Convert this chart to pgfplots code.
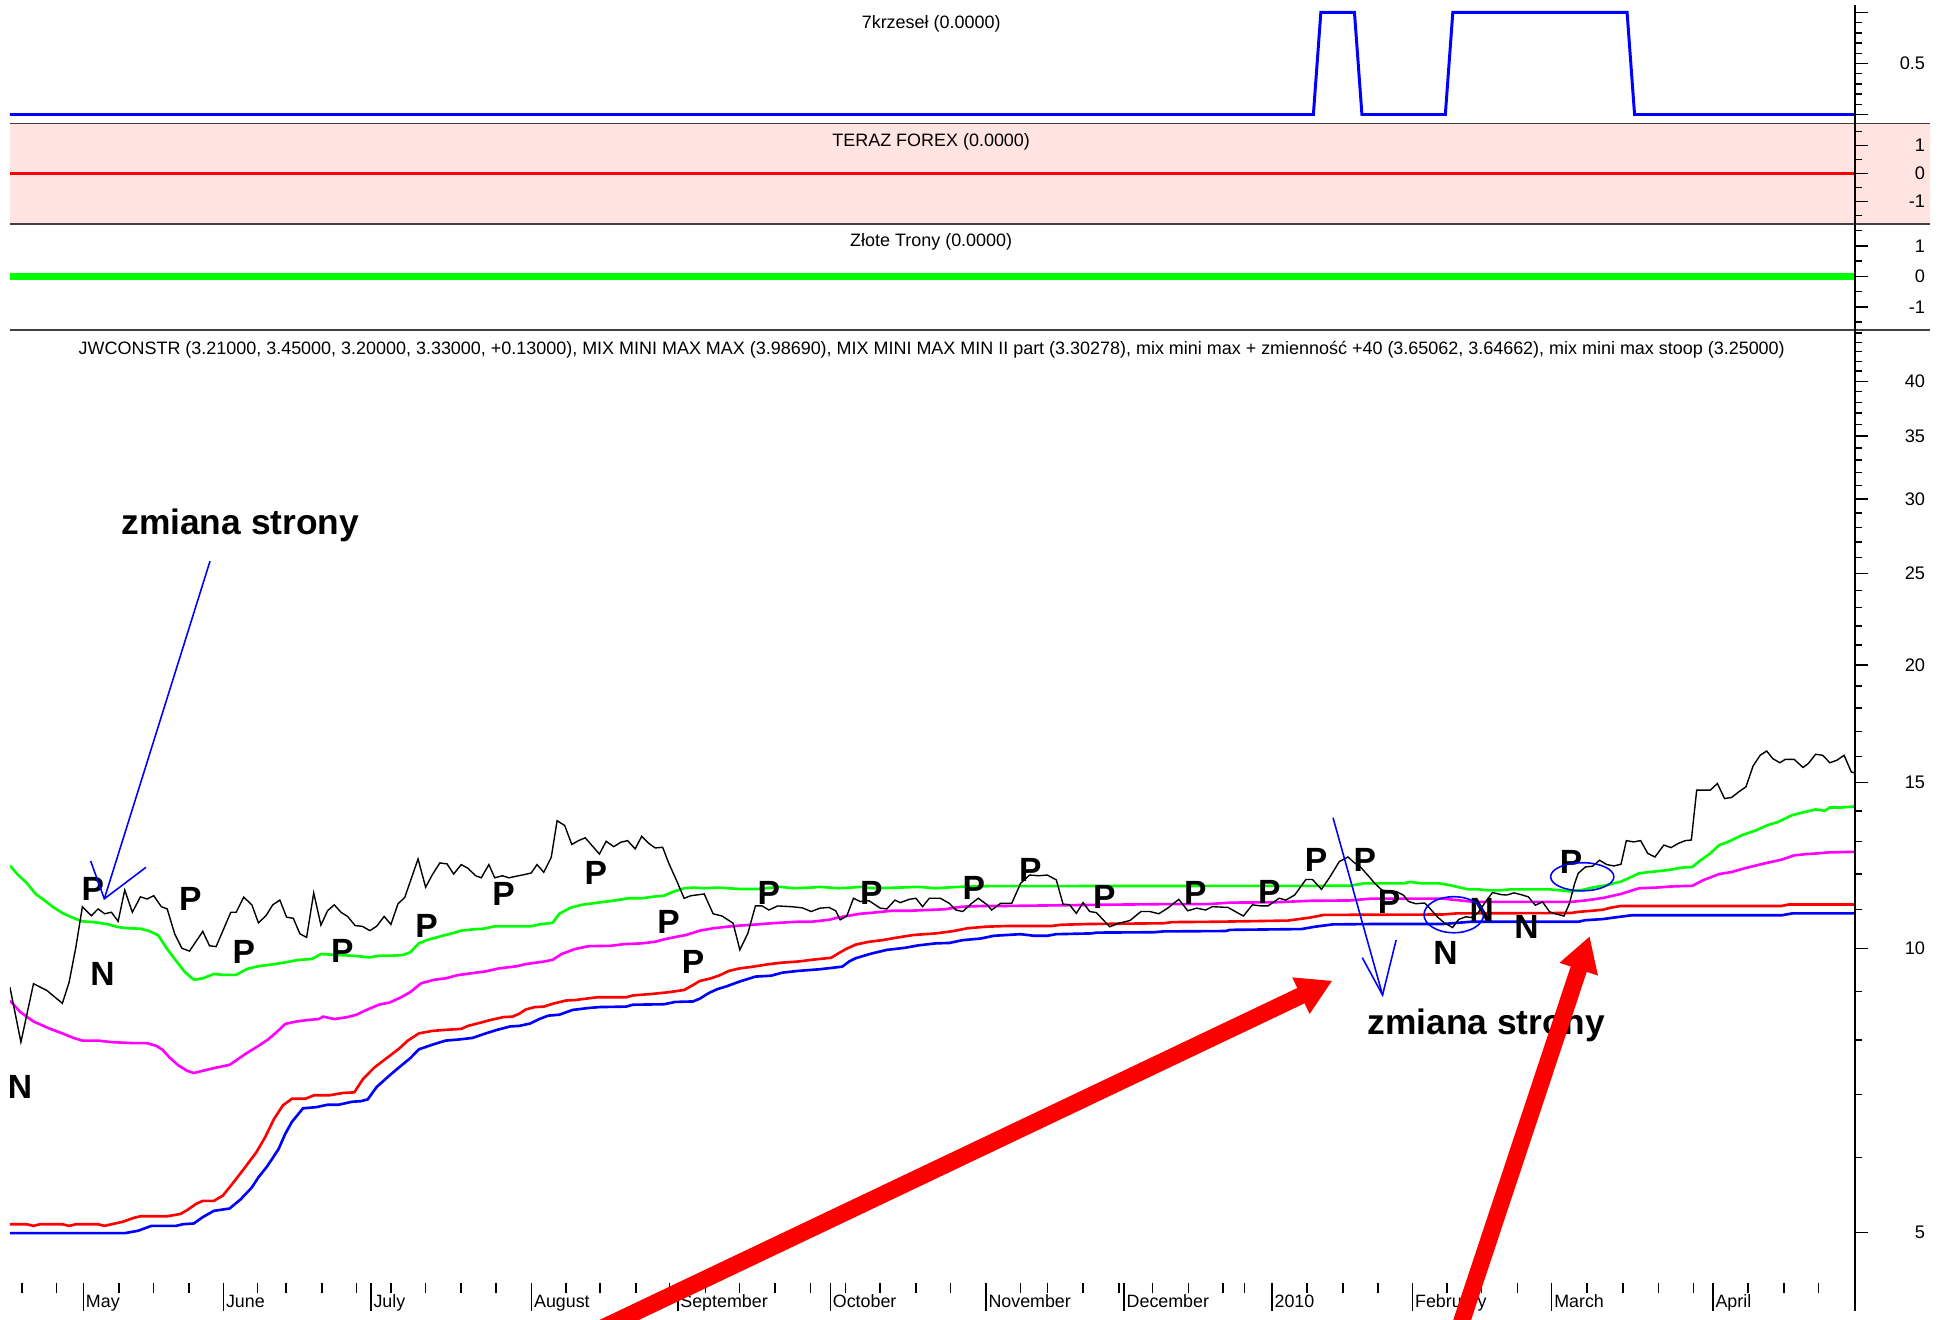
\documentclass[border=0pt]{standalone}
\usepackage{fontspec}
\setmainfont{Liberation Sans}
\usepackage{pgfplots}
\pgfplotsset{compat=1.18}
\usetikzlibrary{arrows.meta}
\definecolor{mygreen}{RGB}{0,255,0}
\definecolor{mymag}{RGB}{255,0,255}
\definecolor{myred}{RGB}{255,0,0}
\definecolor{myblue}{RGB}{0,0,255}
\definecolor{mypink}{RGB}{255,228,225}
\pgfplotsset{base/.style={scale only axis, width=185.25mm, xmin=8, xmax=1490,
  axis line style={draw=none}, xtick=\empty, ytick pos=right, yticklabel pos=right,
  tick align=outside, major tick length=1.3mm, minor tick length=0.7mm,
  tick style={black, line width=0.4pt},
  tick label style={font=\fontsize{5.2}{6}\selectfont},
  yticklabel style={text width=4.5mm, align=right}}}
\begin{document}
\begin{tikzpicture}
\useasboundingbox (0,0) rectangle (196mm,132.5mm);
\begin{scope}[x=0.125mm,y=-0.125mm,shift={(0mm,132.5mm)}]
\fill[mypink] (8,99) rectangle (1550,180);
\end{scope}
% panel 1
\begin{axis}[base, at={(1mm,120.125mm)}, anchor=south west, height=11.875mm,
  ymin=-0.0854, ymax=1.0732, ytick={0,0.5,1}, yticklabels={,0.5,},
  minor ytick={0.1,0.2,0.3,0.4,0.6,0.7,0.8,0.9}]
\addplot[myblue, line width=0.85pt] coordinates {(8,0) (1055,0) (1061,1) (1088,1) (1094,0) (1161,0) (1167,1) (1307,1) (1313,0) (1490,0)};
\end{axis}
% panel 2
\begin{axis}[base, at={(1mm,110mm)}, anchor=south west, height=10.125mm,
  ymin=-1.8, ymax=1.8, ytick={-1,0,1}, yticklabels={-1,0,1},
  minor ytick={-1.5,-0.5,0.5,1.5}]
\addplot[myred, line width=0.9pt] coordinates {(8,0) (1490,0)};
\end{axis}
% panel 3
\begin{axis}[base, at={(1mm,99.375mm)}, anchor=south west, height=10.625mm,
  ymin=-1.755, ymax=1.714, ytick={-1,0,1}, yticklabels={-1,0,1},
  minor ytick={-1.5,-0.5,0.5,1.5}]
\addplot[mygreen, line width=1.9pt] coordinates {(8,0) (1490,0)};
\end{axis}
% main panel
\begin{axis}[base, at={(1mm,3.625mm)}, anchor=south west, height=95.75mm,
  ymode=log, ymin=4.413, ymax=45.35,
  ytick={5,10,15,20,25,30,35,40}, yticklabels={5,10,15,20,25,30,35,40},
  minor ytick={6,7,8,9,11,12,13,14,16,17,18,19,21,22,23,24,26,27,28,29,31,32,33,34,36,37,38,39,41,42,43,44,45}]
% mix mini max stoop (blue)
\addplot[myblue, line width=0.75pt] coordinates {
(8,4.99) (100.2,4.99) (111.0,5.02) (121.7,5.08) (141.4,5.08) (146.8,5.10) (155.7,5.11) (162.9,5.19) (171.8,5.27) (184.4,5.30) (193.3,5.42) (202.3,5.58) (207.6,5.72) (214.8,5.88) (223.8,6.13) (229.1,6.36) (234.5,6.55) (243.4,6.77) (254.2,6.79) (263.1,6.83) (272.1,6.83) (282.8,6.88) (290.0,6.89) (295.4,6.92) (302.5,7.13) (311.5,7.31) (320.4,7.48) (329.4,7.65) (336.5,7.82) (347.3,7.91) (358.0,7.99) (368.7,8.01) (379.5,8.04) (390.2,8.13) (399.2,8.20) (409.9,8.27) (417.1,8.28) (426.0,8.33) (433.2,8.42) (440.3,8.49) (449.3,8.51) (460.0,8.61) (472.6,8.65) (481.5,8.67) (503.0,8.68) (508.4,8.72) (533.4,8.73) (542.4,8.78) (556.7,8.79) (562.1,8.85) (569.2,8.97) (576.4,9.06) (583.6,9.12) (594.3,9.23) (606.8,9.34) (619.4,9.36) (628.3,9.43) (640.8,9.47) (658.7,9.51) (676.6,9.57) (682.0,9.69) (687.4,9.77) (699.9,9.88) (712.4,9.97) (726.8,10.02) (737.5,10.08) (751.8,10.13) (762.6,10.14) (773.3,10.21) (787.6,10.25) (798.4,10.32) (809.1,10.34) (819.8,10.36) (830.6,10.32) (841.3,10.32) (848.5,10.36) (877.1,10.38) (880.7,10.40) (927.2,10.41) (934.4,10.43) (984.5,10.44) (988.1,10.47) (1045.4,10.49) (1056.1,10.55) (1070.4,10.61) (1101.4,10.62) (1158.8,10.62) (1170.2,10.65) (1181.7,10.68) (1267.7,10.68) (1273.5,10.72) (1287.8,10.75) (1296.4,10.79) (1310.7,10.85) (1431.2,10.85) (1439.8,10.90) (1491.4,10.90)};
% MIX MINI MAX MIN II part (red)
\addplot[myred, line width=0.75pt] coordinates {
(8,5.10) (21.5,5.10) (26.9,5.08) (32.2,5.10) (50.1,5.10) (55.5,5.08) (60.9,5.10) (78.8,5.10) (84.1,5.08) (89.5,5.10) (98.5,5.13) (107.4,5.18) (112.8,5.20) (134.3,5.20) (145.0,5.23) (150.4,5.28) (157.5,5.36) (162.9,5.40) (171.8,5.40) (179.0,5.47) (186.2,5.62) (195.1,5.82) (205.9,6.08) (213.0,6.31) (220.2,6.60) (227.3,6.82) (234.5,6.93) (245.2,6.93) (252.4,6.99) (264.9,6.99) (275.7,7.03) (284.6,7.04) (291.8,7.28) (300.7,7.48) (311.5,7.67) (320.4,7.83) (327.6,7.99) (336.5,8.13) (347.3,8.18) (358.0,8.20) (370.5,8.22) (375.9,8.28) (386.6,8.35) (393.8,8.40) (404.5,8.46) (411.7,8.47) (417.1,8.53) (422.4,8.62) (429.6,8.67) (436.8,8.68) (443.9,8.74) (454.7,8.81) (461.8,8.82) (479.7,8.88) (503.0,8.88) (508.4,8.92) (522.7,8.95) (537.0,8.99) (549.6,9.04) (556.7,9.15) (562.1,9.24) (571.0,9.30) (578.2,9.37) (585.4,9.47) (594.3,9.53) (605.0,9.57) (615.8,9.62) (626.5,9.66) (640.8,9.69) (651.6,9.73) (667.7,9.78) (673.1,9.88) (680.2,10.00) (687.4,10.10) (698.1,10.17) (708.9,10.21) (719.6,10.27) (733.9,10.34) (751.8,10.38) (766.1,10.44) (776.9,10.51) (791.2,10.55) (809.1,10.57) (844.9,10.57) (852.1,10.60) (873.5,10.62) (934.4,10.64) (941.6,10.67) (977.4,10.68) (1034.6,10.71) (1052.5,10.79) (1063.3,10.86) (1158.8,10.87) (1170.2,10.90) (1262.0,10.91) (1267.7,10.94) (1282.1,10.98) (1287.8,11.00) (1293.5,11.05) (1302.1,11.10) (1431.2,11.10) (1436.9,11.14) (1491.4,11.14)};
% mix mini max + zmiennosc (magenta)
\addplot[mymag, line width=0.75pt] coordinates {
(8,8.81) (16.1,8.57) (26.9,8.37) (39.4,8.23) (50.1,8.13) (59.1,8.04) (66.2,7.99) (78.8,7.99) (89.5,7.96) (107.4,7.94) (118.1,7.94) (125.3,7.89) (130.7,7.81) (136.0,7.67) (143.2,7.52) (150.4,7.42) (155.7,7.38) (162.9,7.42) (171.8,7.47) (184.4,7.53) (189.7,7.61) (196.9,7.73) (205.9,7.86) (214.8,8.00) (222.0,8.15) (229.1,8.32) (238.1,8.37) (247.0,8.40) (256.0,8.42) (259.6,8.47) (268.5,8.42) (279.2,8.46) (286.4,8.51) (293.6,8.60) (304.3,8.72) (313.3,8.77) (322.2,8.88) (329.4,8.99) (338.3,9.19) (349.1,9.27) (358.0,9.30) (367.0,9.37) (379.5,9.42) (390.2,9.46) (401.0,9.53) (415.3,9.58) (422.4,9.63) (436.8,9.69) (443.9,9.73) (451.1,9.87) (461.8,9.99) (472.6,10.06) (490.5,10.07) (501.2,10.11) (515.5,10.13) (526.3,10.17) (533.4,10.23) (544.2,10.30) (551.3,10.34) (562.1,10.45) (572.8,10.51) (583.6,10.55) (594.3,10.58) (608.6,10.61) (619.4,10.64) (630.1,10.66) (640.8,10.68) (651.6,10.68) (665.9,10.73) (673.1,10.79) (680.2,10.83) (691.0,10.89) (701.7,10.92) (716.0,10.97) (730.3,10.97) (744.7,10.99) (759.0,11.01) (766.1,11.05) (773.3,11.08) (791.2,11.10) (809.1,11.10) (880.7,11.13) (938.0,11.15) (970.2,11.15) (988.1,11.19) (1023.9,11.20) (1052.5,11.24) (1084.2,11.25) (1101.4,11.30) (1158.8,11.30) (1173.1,11.25) (1184.6,11.21) (1262.0,11.21) (1273.5,11.25) (1287.8,11.32) (1302.1,11.43) (1316.5,11.59) (1330.8,11.61) (1342.3,11.64) (1359.5,11.66) (1368.1,11.82) (1381.0,12.00) (1391.0,12.06) (1402.5,12.18) (1416.8,12.31) (1431.2,12.43) (1441.2,12.56) (1451.2,12.60) (1459.8,12.62) (1468.4,12.65) (1491.4,12.67)};
% MIX MINI MAX MAX (green)
\addplot[mygreen, line width=0.75pt] coordinates {
(8,12.25) (14.3,11.98) (21.5,11.74) (28.6,11.43) (35.8,11.25) (43.0,11.06) (50.1,10.91) (57.3,10.80) (66.2,10.69) (75.2,10.67) (85.9,10.62) (94.9,10.54) (103.8,10.51) (112.8,10.50) (119.9,10.44) (127.1,10.33) (134.3,9.99) (141.4,9.71) (148.6,9.44) (155.7,9.27) (162.9,9.30) (171.8,9.40) (179.0,9.38) (189.7,9.38) (198.7,9.52) (207.6,9.58) (218.4,9.62) (229.1,9.67) (239.9,9.73) (250.6,9.75) (257.8,9.87) (268.5,9.85) (282.8,9.83) (297.1,9.79) (304.3,9.83) (315.0,9.83) (324.0,9.85) (329.4,9.91) (336.5,10.13) (343.7,10.22) (354.4,10.31) (365.2,10.40) (370.5,10.45) (379.5,10.48) (388.4,10.50) (397.4,10.56) (426.0,10.56) (435.0,10.62) (443.9,10.65) (449.3,10.89) (458.2,11.05) (467.2,11.13) (476.1,11.17) (486.9,11.22) (494.0,11.25) (504.8,11.31) (515.5,11.31) (526.3,11.36) (533.4,11.38) (540.6,11.49) (549.6,11.59) (556.7,11.61) (565.7,11.59) (576.4,11.61) (594.3,11.57) (608.6,11.57) (626.5,11.63) (637.3,11.59) (651.6,11.61) (658.7,11.63) (673.1,11.59) (683.8,11.61) (691.0,11.63) (701.7,11.59) (723.2,11.61) (737.5,11.63) (751.8,11.59) (769.7,11.63) (794.8,11.65) (1084.2,11.66) (1095.7,11.73) (1127.2,11.73) (1133.0,11.77) (1141.6,11.73) (1155.9,11.73) (1164.5,11.68) (1178.9,11.56) (1187.4,11.56) (1196.1,11.53) (1204.6,11.53) (1213.3,11.56) (1244.8,11.56) (1253.4,11.53) (1262.0,11.50) (1270.6,11.54) (1279.2,11.61) (1290.7,11.68) (1302.1,11.78) (1310.7,11.92) (1316.5,12.02) (1325.1,12.06) (1333.7,12.09) (1342.3,12.13) (1350.9,12.19) (1359.5,12.21) (1365.3,12.39) (1373.8,12.62) (1381.0,12.88) (1388.1,12.98) (1399.6,13.20) (1411.1,13.36) (1419.7,13.52) (1428.3,13.63) (1439.8,13.86) (1448.3,13.95) (1458.4,14.05) (1462.7,14.03) (1465.6,14.00) (1469.9,14.12) (1479.9,14.12) (1491.4,14.16)};
% JWCONSTR close (black)
\addplot[black, line width=0.4pt] coordinates {
(8,9.10) (16.8,7.96) (26.9,9.18) (37.6,9.03) (50.1,8.75) (55.5,9.21) (60.9,10.03) (66.2,11.08) (73.4,10.84) (78.8,11.02) (84.1,10.89) (89.5,10.93) (94.9,10.69) (100.2,11.54) (106.3,10.93) (112.8,11.35) (118.1,11.29) (123.5,11.38) (129.6,11.08) (134.3,11.02) (140.3,10.37) (146.1,10.01) (152.2,9.94) (162.9,10.43) (168.3,10.07) (173.6,10.05) (185.4,10.93) (189.7,10.93) (195.8,11.34) (202.3,11.13) (207.6,10.65) (213.7,10.84) (219.1,11.13) (224.8,11.26) (230.2,10.80) (235.6,10.77) (240.9,10.37) (246.3,10.28) (252.0,11.46) (257.8,10.59) (263.1,10.97) (268.5,11.13) (273.9,10.93) (279.2,10.82) (285.3,10.58) (291.1,10.56) (297.1,10.45) (302.5,10.56) (308.6,10.82) (314.0,10.61) (319.7,11.16) (325.1,11.33) (335.8,12.45) (341.9,11.62) (347.3,11.98) (353.3,12.33) (359.1,12.30) (364.4,12.00) (370.5,12.28) (375.9,12.17) (382.0,11.95) (386.6,11.89) (392.7,12.28) (397.4,11.89) (403.5,11.95) (408.8,11.89) (415.3,11.94) (420.7,11.98) (426.7,12.03) (431.4,12.28) (436.8,12.05) (442.8,12.50) (447.5,13.67) (453.6,13.51) (459.3,12.90) (464.7,13.02) (470.1,13.11) (475.4,12.87) (481.5,12.60) (486.9,13.00) (493.0,12.83) (498.7,12.97) (504.1,13.02) (510.2,12.76) (515.5,13.16) (520.9,12.94) (526.3,12.79) (532.3,12.81) (537.0,12.34) (544.2,11.75) (549.5,11.31) (554.9,11.38) (565.7,11.43) (572.8,10.89) (580.0,10.83) (588.9,10.64) (594.3,9.97) (600.7,10.38) (606.8,11.10) (612.2,11.10) (617.6,10.99) (624.7,11.10) (635.5,11.08) (644.4,11.05) (651.6,10.95) (658.7,11.04) (665.9,11.06) (671.3,10.97) (674.9,10.73) (680.2,10.83) (685.6,11.31) (691.0,11.22) (698.1,11.24) (707.1,11.04) (712.4,11.02) (718.9,11.26) (723.2,11.19) (730.3,11.28) (735.7,11.31) (741.1,11.08) (746.5,11.31) (755.4,11.31) (762.6,11.17) (767.9,10.99) (773.3,10.95) (780.5,11.17) (785.8,11.31) (793.0,11.13) (796.6,10.99) (803.7,11.17) (812.7,11.17) (819.8,11.73) (827.0,11.97) (834.2,11.95) (841.3,11.97) (848.5,11.83) (853.9,11.15) (859.2,11.13) (864.6,10.90) (870.0,11.19) (875.3,10.95) (880.7,10.92) (891.4,10.55) (898.6,10.64) (907.6,10.71) (916.5,10.95) (923.7,10.95) (930.8,10.89) (938.0,11.04) (946.9,11.28) (954.1,10.97) (961.3,11.04) (968.4,10.99) (973.8,11.08) (986.3,11.06) (998.8,10.83) (1006.0,11.13) (1013.2,11.10) (1018.5,11.10) (1027.5,11.31) (1032.9,11.26) (1040.0,11.40) (1049.0,11.84) (1054.3,11.84) (1061.5,11.56) (1068.4,11.92) (1075.8,12.37) (1082.8,12.51) (1087.1,12.36) (1092.8,12.21) (1098.6,11.97) (1104.3,11.73) (1110.0,11.54) (1115.8,11.50) (1121.5,11.50) (1127.2,11.40) (1131.5,11.22) (1137.3,11.16) (1144.4,11.18) (1148.7,11.03) (1154.5,10.81) (1160.2,10.65) (1166.8,10.53) (1171.7,10.74) (1177.4,10.81) (1181.7,10.79) (1187.4,10.92) (1193.2,11.21) (1198.9,11.47) (1206.1,11.41) (1210.4,11.40) (1216.1,11.46) (1221.9,11.41) (1227.6,11.35) (1233.3,11.12) (1239.1,11.21) (1244.8,10.94) (1250.5,10.88) (1256.3,10.83) (1260.6,11.16) (1264.9,11.73) (1267.7,12.02) (1273.5,12.21) (1279.2,12.23) (1284.9,12.41) (1290.7,12.28) (1296.4,12.24) (1302.1,12.29) (1306.4,13.02) (1312.2,12.98) (1317.9,13.02) (1323.6,12.62) (1329.4,12.51) (1336.5,12.88) (1342.3,12.80) (1348.0,12.93) (1353.7,13.02) (1358.6,13.04) (1362.9,14.73) (1368.1,14.73) (1373.8,14.73) (1379.5,14.97) (1385.3,14.43) (1391.0,14.47) (1396.7,14.67) (1402.5,14.85) (1408.2,15.63) (1413.9,16.04) (1419.1,16.21) (1424.0,15.91) (1429.7,15.75) (1434.0,15.88) (1441.2,15.88) (1448.3,15.57) (1452.6,15.72) (1458.4,16.08) (1464.1,16.04) (1469.9,15.75) (1475.6,15.85) (1481.3,16.04) (1487.1,15.40) (1491.4,15.34)};
\end{axis}
\begin{scope}[x=0.125mm,y=-0.125mm,shift={(0mm,132.5mm)}]
% separators and right axis line
\draw[black!75, line width=0.4pt] (8,99) -- (1550,99) (8,180) -- (1550,180) (8,265) -- (1550,265);
\draw[black, line width=0.4pt] (1490,4) -- (1490,1031);
% x ticks
\foreach \x in {17.8,45.4,95.6,123.2,151.8,207,229.6,258.8,286.4,314,341.6,370.2,398.3,454.5,482,510.8,538,566.5,594,622.7,651.3,679.4,707,735.7,763.3,819.7,841.4,870,898.8,925.6,954.8,982.5,999.6,1050,1078.8,1107,1162.4,1190,1218.9,1274.8,1303.6,1332.3,1360.5,1404,1433,1460.8}
  \draw[black, line width=0.4pt] (\x,1031) -- (\x,1039);
\foreach \x in {67,179.5,298,427,544.5,667,792,903,1021.8,1134.7,1246.5,1376,1490}
  \draw[black, line width=0.4pt] (\x,1031) -- (\x,1053);
\foreach \x/\m in {67/May,179.5/June,298/July,427/August,544.5/September,667/October,792/November,903/December,1021.8/2010,1134.7/February,1246.5/March,1376/April}
  \node[anchor=base west, inner sep=0pt, font=\fontsize{5.1}{6}\selectfont] at ({\x+1.5},1050.5) {\m};
% titles
\begin{scope}[every node/.style={anchor=base, inner sep=0pt, font=\fontsize{5.13}{6}\selectfont}]
\node at (748,23) {7krzeseł (0.0000)};
\node at (748,118) {TERAZ FOREX (0.0000)};
\node at (748,198) {Złote Trony (0.0000)};
\node at (748.5,285) {JWCONSTR (3.21000, 3.45000, 3.20000, 3.33000, +0.13000), MIX MINI MAX MAX (3.98690), MIX MINI MAX MIN II part (3.30278), mix mini max + zmienność +40 (3.65062, 3.64662), mix mini max stoop (3.25000)};
\end{scope}
% P / N markers
\begin{scope}[every node/.style={inner sep=0pt, font=\bfseries\fontsize{9.6}{10}\selectfont}]
\foreach \px/\py in {74.5/714,152.9/722,195.8/765,275/764,342.6/743.5,404.5/718,478.6/701.4,537/740.6,556.7/773,617.6/717.7,699.9/717.7,782.3/713.6,827.7/698.9,887.1/720.3,960.2/717.7,1019.6/716.3,1057.1/690.9,1096.3/690.9,1115.8/724.4,1262/692.2}
  \node at (\px,\py) {P};
\foreach \px/\py in {82.3/782,16/873.5,1161.1/765.9,1190.3/731,1226.2/744.4}
  \node at (\px,\py) {N};
\end{scope}
% zmiana strony labels
\node[anchor=base, inner sep=0pt, font=\bfseries\fontsize{10.1}{12}\selectfont] at (193,429) {zmiana strony};
\node[anchor=base, inner sep=0pt, font=\bfseries\fontsize{10.1}{12}\selectfont] at (1194,831) {zmiana strony};
% blue annotations
\draw[myblue, line width=0.45pt] (168.7,450.8) -- (83.8,722);
\draw[myblue, line width=0.45pt] (72.8,691.6) -- (83.8,722) -- (117.3,696.7);
\draw[myblue, line width=0.45pt] (1070.8,656.9) -- (1110.6,799.3);
\draw[myblue, line width=0.45pt] (1094.3,769.3) -- (1110.6,799.3) -- (1121.5,755.1);
\draw[myblue, line width=0.45pt] (1167.8,734.8) ellipse [x radius=2.99mm, y radius=1.81mm];
\draw[myblue, line width=0.45pt] (1271,704.3) ellipse [x radius=3.175mm, y radius=1.41mm];
% red arrows
\begin{scope}
\clip (0,0) rectangle (1568,1060);
\draw[myred, line width=1.7mm, -{Triangle[length=3.5mm,width=3.8mm]}] (477,1070) -- (1070.3,787.8);
\draw[myred, line width=1.7mm, -{Triangle[length=3.5mm,width=3.8mm]}] (1172,1068) -- (1277,752);
\end{scope}
\end{scope}
\end{tikzpicture}
\end{document}
